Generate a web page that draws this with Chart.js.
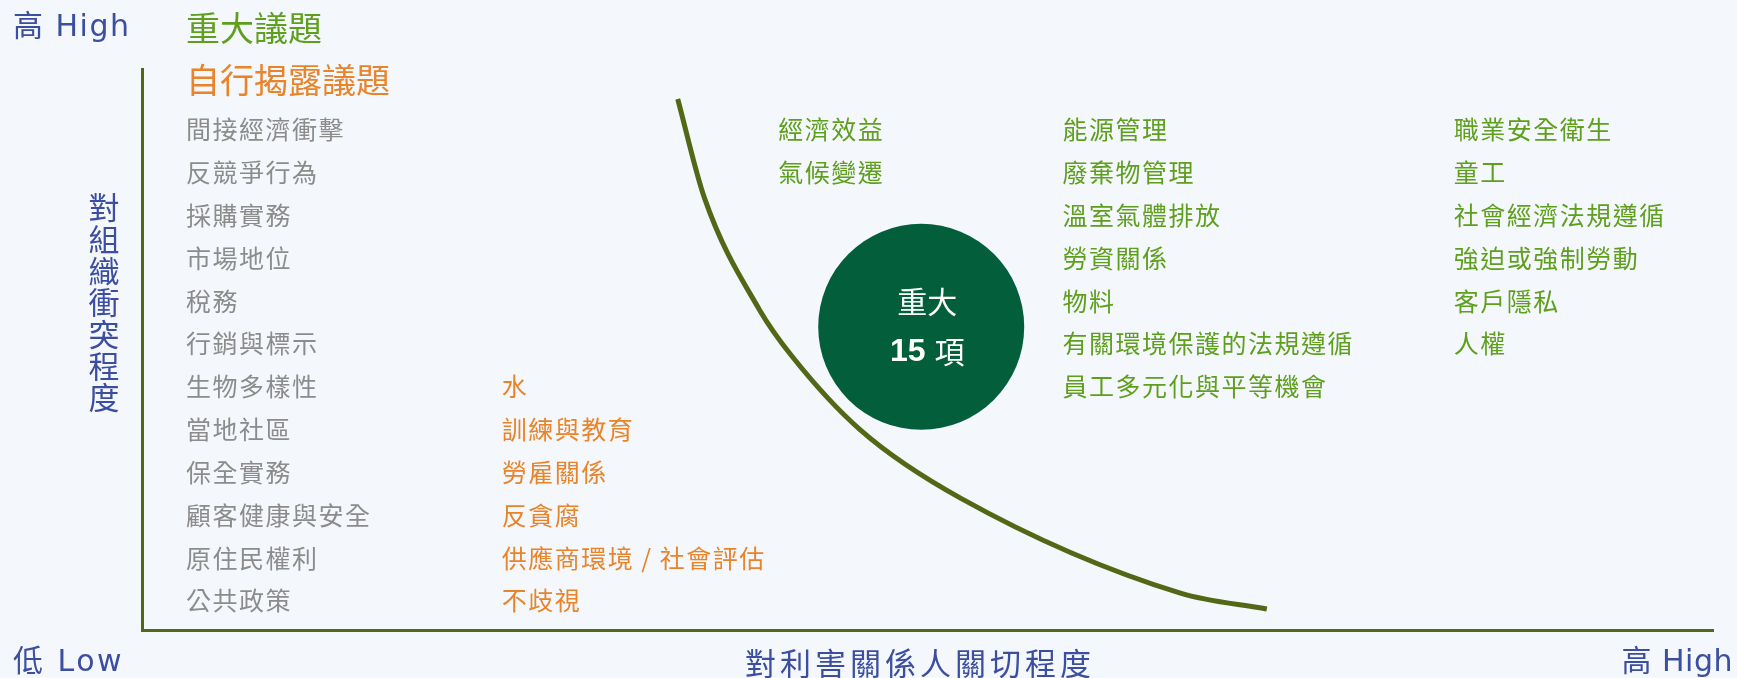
<!DOCTYPE html>
<html lang="zh-Hant">
<head>
<meta charset="UTF-8">
<title>重大議題矩陣</title>
<script src="https://cdn.jsdelivr.net/npm/chart.js"></script>
<style>
  html, body { margin: 0; padding: 0; background: #f4f7fb; }
  #wrap { width: 1737px; height: 678px; position: relative; }
</style>
</head>
<body>
<div id="wrap"><canvas id="chart"></canvas></div>

<script>
// issue lists, top to bottom
const grayIssues = ['間接經濟衝擊', '反競爭行為', '採購實務', '市場地位', '稅務', '行銷與標示',
  '生物多樣性', '當地社區', '保全實務', '顧客健康與安全', '原住民權利', '公共政策'];
const orangeIssues = ['水', '訓練與教育', '勞雇關係', '反貪腐', '供應商環境 / 社會評估', '不歧視'];
const greenIssues1 = ['經濟效益', '氣候變遷'];
const greenIssues2 = ['能源管理', '廢棄物管理', '溫室氣體排放', '勞資關係', '物料', '有關環境保護的法規遵循', '員工多元化與平等機會'];
const greenIssues3 = ['職業安全衛生', '童工', '社會經濟法規遵循', '強迫或強制勞動', '客戶隱私', '人權'];

// column on the stakeholder axis (0-100) and top row (rows 1..12 from bottom)
const columnX = [2.8, 22.9, 40.5, 58.6, 83.5];
const topRow = [12, 6, 12, 12, 12];

// threshold curve
const curveX = [34.1, 35.8, 39.3, 41.4, 45.7, 52.1, 66.1, 71.6];
const curveY = [12.72, 10.41, 7.80, 6.70, 5.00, 3.40, 1.18, 0.81];

// summary bubble
const bubbleX = 49.6, bubbleY = 7.40;
const bubbleTitle = '重大';
const bubbleCount = '15';
const bubbleUnit = '項';

const GREEN = '#5f9f1e', ORANGE = '#e8842a', GRAY = '#8c8c8c', BLUE = '#3c4e9f', OLIVE = '#536816';
const CJK = '"Noto Sans CJK TC", "Noto Sans CJK SC", sans-serif';
const LAT = '"DejaVu Sans", "Noto Sans CJK TC", sans-serif';

function col(labels, i) {
  return labels.map((t, k) => ({ x: columnX[i], y: topRow[i] - k }));
}
function labelSet(labels, i, color) {
  return { data: col(labels, i), labels: labels, labelColor: color, pointRadius: 0, showLine: false };
}

const textPlugin = {
  id: 'texts',
  beforeDraw(chart) {
    const c = chart.ctx;
    c.save();
    c.fillStyle = '#f4f7fb';
    c.fillRect(0, 0, chart.width, chart.height);
    c.restore();
  },
  afterDatasetsDraw(chart) {
    const c = chart.ctx;
    const a = chart.chartArea;
    c.save();
    c.textBaseline = 'middle';
    // issue labels
    chart.data.datasets.forEach((ds, di) => {
      if (!ds.labels) return;
      const meta = chart.getDatasetMeta(di);
      c.font = '25px ' + CJK;
      c.letterSpacing = '1.5px';
      c.fillStyle = ds.labelColor;
      c.textAlign = 'left';
      meta.data.forEach((pt, k) => c.fillText(ds.labels[k], pt.x, pt.y));
    });
    c.letterSpacing = '0px';

    // bubble text
    const bm = chart.getDatasetMeta(1).data[0];
    c.fillStyle = '#ffffff';
    c.textAlign = 'center';
    c.font = '30px ' + CJK;
    c.fillText(bubbleTitle, bm.x + 6, bm.y - 25);
    c.font = 'bold 32px "Liberation Sans", Arial, sans-serif';
    const w1 = c.measureText(bubbleCount + ' ').width;
    c.font = '30px ' + CJK;
    const w2 = c.measureText(bubbleUnit).width;
    const sx = bm.x + 6 - (w1 + w2) / 2;
    c.textAlign = 'left';
    c.font = 'bold 32px "Liberation Sans", Arial, sans-serif';
    c.fillText(bubbleCount, sx, bm.y + 25);
    c.font = '30px ' + CJK;
    c.fillText(bubbleUnit, sx + w1, bm.y + 25);

    // legend-like headings
    c.font = '34px ' + CJK;
    c.fillStyle = GREEN;
    c.fillText('重大議題', a.left + 44, a.top - 41);
    c.fillStyle = ORANGE;
    c.fillText('自行揭露議題', a.left + 44, a.top + 11);

    // axis captions
    c.fillStyle = BLUE;
    c.font = '30px ' + LAT;
    c.letterSpacing = '1.5px';
    c.textAlign = 'left';
    c.fillText('高 High', 13, a.top - 41);
    c.letterSpacing = '2.5px';
    c.fillText('低 Low', 13, a.bottom + 33);
    c.letterSpacing = '0.5px';
    c.textAlign = 'right';
    c.fillText('高 High', chart.width - 4, a.bottom + 33);
    c.textAlign = 'center';
    c.font = '31px ' + CJK;
    c.letterSpacing = '4px';
    c.fillText('對利害關係人關切程度', 920, a.bottom + 33);
    c.letterSpacing = '0px';
    const vt = '對組織衝突程度';
    c.font = '31px ' + CJK;
    for (let i = 0; i < vt.length; i++) {
      c.fillText(vt[i], 104, 207.5 + i * 31.7);
    }
    c.restore();
  }
};

new Chart(document.getElementById('chart'), {
  type: 'scatter',
  data: {
    datasets: [
      {
        data: curveX.map((x, i) => ({ x: x, y: curveY[i] })),
        showLine: true,
        borderColor: OLIVE,
        borderWidth: 5,
        pointRadius: 0,
        cubicInterpolationMode: 'monotone',
        order: 2
      },
      {
        data: [{ x: bubbleX, y: bubbleY }],
        pointRadius: 103,
        pointHoverRadius: 103,
        backgroundColor: '#035f3b',
        borderWidth: 0,
        order: 1
      },
      labelSet(grayIssues, 0, GRAY),
      labelSet(orangeIssues, 1, ORANGE),
      labelSet(greenIssues1, 2, GREEN),
      labelSet(greenIssues2, 3, GREEN),
      labelSet(greenIssues3, 4, GREEN)
    ]
  },
  options: {
    responsive: true,
    maintainAspectRatio: false,
    animation: false,
    events: [],
    layout: { autoPadding: false, padding: { left: 142, top: 69, right: 24, bottom: 48 } },
    plugins: { legend: { display: false }, tooltip: { enabled: false } },
    scales: {
      x: {
        type: 'linear', min: 0, max: 100,
        ticks: { display: false },
        grid: { display: false, drawTicks: false },
        border: { display: true, color: OLIVE, width: 3 }
      },
      y: {
        type: 'linear', min: 0.32, max: 13.42,
        ticks: { display: false },
        grid: { display: false, drawTicks: false },
        border: { display: true, color: OLIVE, width: 3 }
      }
    }
  },
  plugins: [textPlugin]
});
</script>
</body>
</html>
